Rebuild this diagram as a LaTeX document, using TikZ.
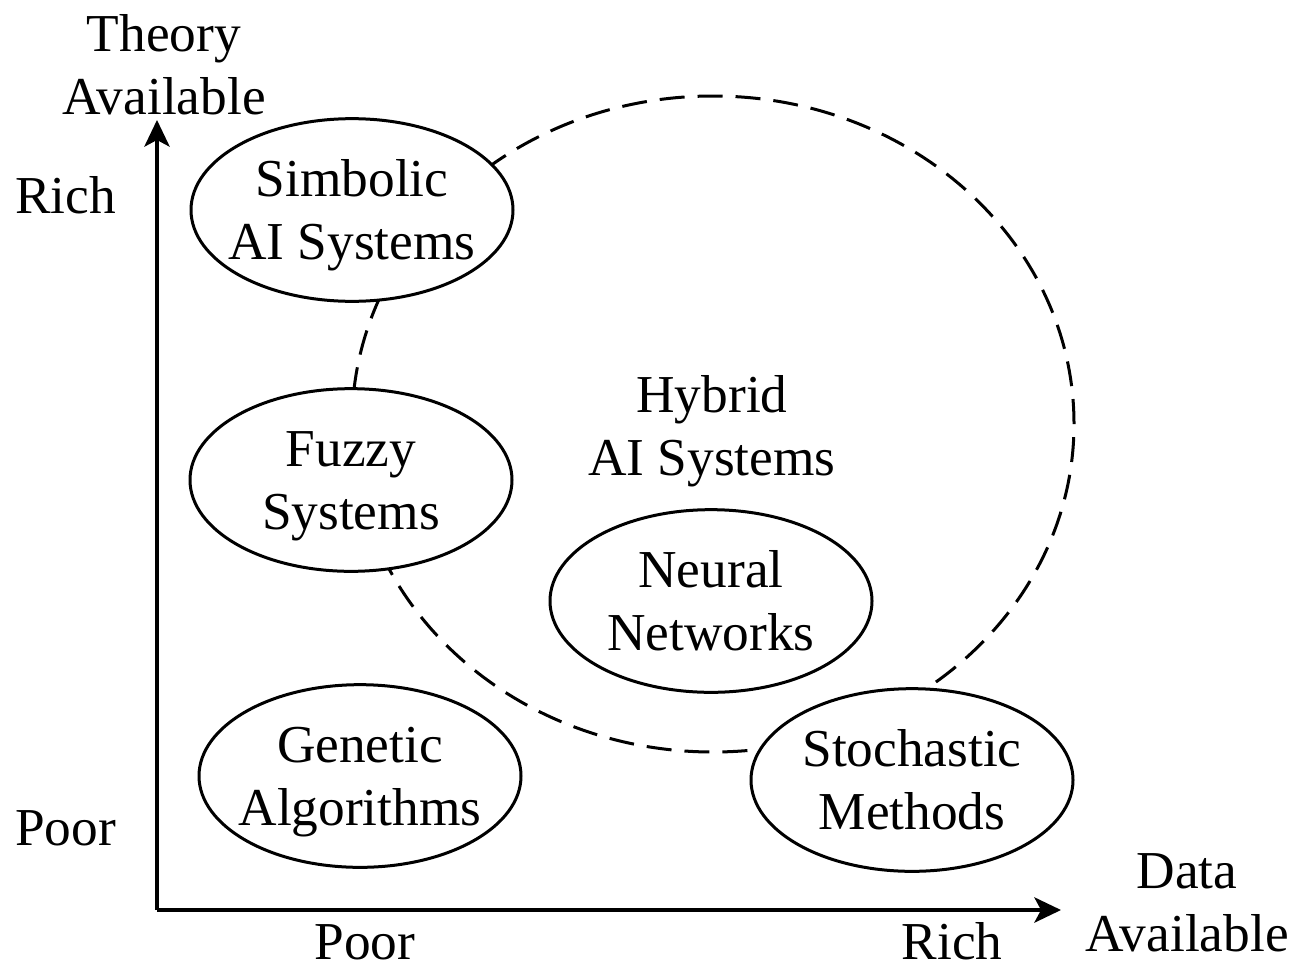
\documentclass[tikz,border=0pt]{standalone}
\usepackage{fontspec}
\setmainfont{Liberation Serif}
\usetikzlibrary{arrows.meta,shapes.geometric}
\begin{document}
\begin{tikzpicture}[x=0.75pt,y=-0.75pt,
  oval/.style={draw,ellipse,line width=2.25pt,fill=white,minimum width=241.5pt,minimum height=137pt,inner sep=0pt},
  txt/.style={align=center,font=\fontsize{40}{47.5}\selectfont,inner sep=0pt,text height=26.5pt,text depth=0pt,yshift=-23.75pt},
  lbl/.style={font=\fontsize{40}{47.5}\selectfont,inner sep=0pt,text height=26.5pt,text depth=0pt},
  axis/.style={line width=2.6pt,-{Stealth[length=20pt,width=19pt,inset=5pt]}},
  hyb/.style={draw,ellipse,dashed,line width=2.25pt,dash pattern=on 18.75pt off 9.75pt,minimum width=541.5pt,minimum height=492pt,inner sep=0pt}]
\useasboundingbox (0,0) rectangle (1294,967);
% hybrid region
\node[hyb] (hybrid) at (713,424) {};
% axes
\coordinate (origin) at (157,910);
\coordinate (ytip) at (157,120);
\coordinate (xtip) at (1061,910);
\draw[axis] (origin) -- (ytip);
\draw[axis] (origin) -- (xtip);
% ovals
\node[oval] (sym) at (352,210) {};
\node[oval] (fuz) at (351,480) {};
\node[oval] (gen) at (360,776) {};
\node[oval] (neu) at (711,601) {};
\node[oval] (sto) at (912,780) {};
\node[txt] (symt) at (sym) {Simbolic\\AI Systems};
\node[txt] (fuzt) at (fuz) {Fuzzy\\Systems};
\node[txt] (gent) at (gen) {Genetic\\Algorithms};
\node[txt] (neut) at (neu) {Neural\\Networks};
\node[txt] (stot) at (sto) {Stochastic\\Methods};
\node[txt] (hybt) at (712,426) {Hybrid\\AI Systems};
% axis labels
\node[txt] (theory) at (164,65) {Theory\\Available};
\node[txt] (data) at (1187,902) {Data\\Available};
\node[lbl,anchor=west] (yrich) at (15,196) {Rich};
\node[lbl,anchor=west] (ypoor) at (15,828) {Poor};
\node[lbl] (xpoor) at (365,942) {Poor};
\node[lbl] (xrich) at (952,942) {Rich};
\end{tikzpicture}
\end{document}
